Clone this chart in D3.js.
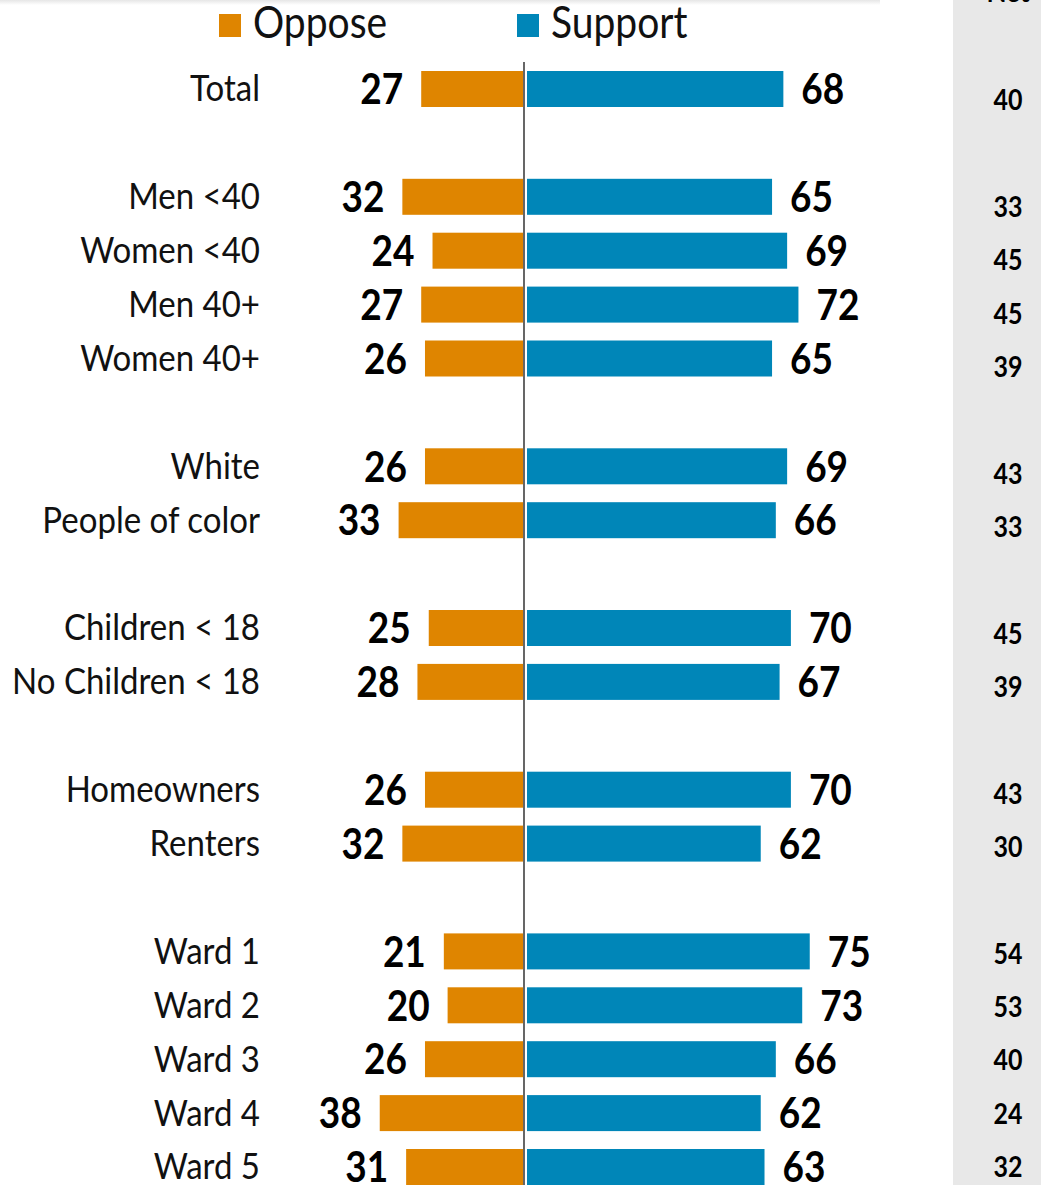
<!DOCTYPE html>
<html><head><meta charset="utf-8">
<script src="https://cdn.jsdelivr.net/npm/d3@7"></script>
<style>body{margin:0;background:#fff}svg{display:block}</style>
</head><body><svg id="c" width="1041" height="1185"></svg>
<script>
const groups = [
  ["Total"],
  ["Men <40", "Women <40", "Men 40+", "Women 40+"],
  ["White", "People of color"],
  ["Children < 18", "No Children < 18"],
  ["Homeowners", "Renters"],
  ["Ward 1", "Ward 2", "Ward 3", "Ward 4", "Ward 5"]
];
const categories = groups.flat();
const oppose  = [27, 32, 24, 27, 26, 26, 33, 25, 28, 26, 32, 21, 20, 26, 38, 31];
const support = [68, 65, 69, 72, 65, 69, 66, 70, 67, 70, 62, 75, 73, 66, 62, 63];
const net     = [40, 33, 45, 45, 39, 43, 33, 45, 39, 43, 30, 54, 53, 40, 24, 32];
const seriesNames = ["Oppose", "Support"];
const colors = ["#DF8500", "#0086B8"];
const netHeader = "Net";

const W = 1041, H = 1185;
const svg = d3.select("#c");
const font = "Lato, 'Open Sans', sans-serif";
const SY = 1.13; // vertical stretch of the original typography

// slots with spacer rows between groups
const slots = [];
groups.forEach((g, i) => { if (i > 0) slots.push("__gap" + i); slots.push(...g); });

const y = d3.scalePoint().domain(slots).range([89, 1167]);
const yNet = d3.scalePoint().domain(slots).range([100, 1167]);
const barH = 36;
const cx = 524;
const x = d3.scaleLinear().domain([0, 100]).range([0, 377]);

const tf = (px, py) => `translate(${px},${py}) scale(1,${SY})`;

// faint top shadow
const defs = svg.append("defs");
const lg = defs.append("linearGradient").attr("id", "sh").attr("x1", 0).attr("x2", 0).attr("y1", 0).attr("y2", 1);
lg.append("stop").attr("offset", 0).attr("stop-color", "#e6e6e6");
lg.append("stop").attr("offset", 1).attr("stop-color", "#ffffff");
svg.append("rect").attr("x", 0).attr("y", 0).attr("width", 880).attr("height", 5).attr("fill", "url(#sh)");

// grey net column
svg.append("rect").attr("x", 953).attr("y", 0).attr("width", W - 953).attr("height", H).attr("fill", "#e8e8e8");
svg.append("text").attr("transform", tf(1008, 2)).attr("text-anchor", "middle")
  .attr("font-family", font).attr("font-weight", 700).attr("font-size", 26).text(netHeader);

const rows = categories.map((c, i) => ({ c, o: oppose[i], s: support[i], n: net[i] }));

// category labels
svg.append("g").selectAll("text").data(rows).join("text")
  .attr("transform", d => tf(260, y(d.c) + 11 * SY))
  .attr("text-anchor", "end").attr("font-family", font).attr("font-size", 33).attr("fill", "#111")
  .text(d => d.c);

// oppose bars
svg.append("g").selectAll("rect").data(rows).join("rect")
  .attr("x", d => cx - 1 - x(d.o)).attr("y", d => y(d.c) - barH / 2)
  .attr("width", d => x(d.o)).attr("height", barH).attr("fill", colors[0]);
// support bars
svg.append("g").selectAll("rect").data(rows).join("rect")
  .attr("x", cx + 3).attr("y", d => y(d.c) - barH / 2)
  .attr("width", d => x(d.s)).attr("height", barH).attr("fill", colors[1]);

// value labels
svg.append("g").selectAll("text").data(rows).join("text")
  .attr("transform", d => tf(cx - 1 - x(d.o) - 18, y(d.c) + 13.5 * SY))
  .attr("text-anchor", "end").attr("font-family", font).attr("font-weight", 700).attr("font-size", 37)
  .text(d => d.o);
svg.append("g").selectAll("text").data(rows).join("text")
  .attr("transform", d => tf(cx + 3 + x(d.s) + 18, y(d.c) + 13.5 * SY))
  .attr("text-anchor", "start").attr("font-family", font).attr("font-weight", 700).attr("font-size", 37)
  .text(d => d.s);

// net values
svg.append("g").selectAll("text").data(rows).join("text")
  .attr("transform", d => tf(1008, yNet(d.c) + 9 * SY))
  .attr("text-anchor", "middle").attr("font-family", font).attr("font-weight", 700).attr("font-size", 25)
  .text(d => d.n);

// center line
svg.append("line").attr("x1", cx).attr("x2", cx).attr("y1", 62).attr("y2", H)
  .attr("stroke", "#000").attr("stroke-width", 1.2);

// legend
const legX = [219, 517];
const leg = svg.append("g").selectAll("g").data(seriesNames).join("g")
  .attr("transform", (d, i) => `translate(${legX[i]},0)`);
leg.append("rect").attr("x", 0).attr("y", 14).attr("width", 22).attr("height", 23).attr("fill", (d, i) => colors[i]);
leg.append("text").attr("transform", tf(34, 38)).attr("font-family", font).attr("font-size", 39).attr("fill", "#111")
  .text(d => d);
</script></body></html>
